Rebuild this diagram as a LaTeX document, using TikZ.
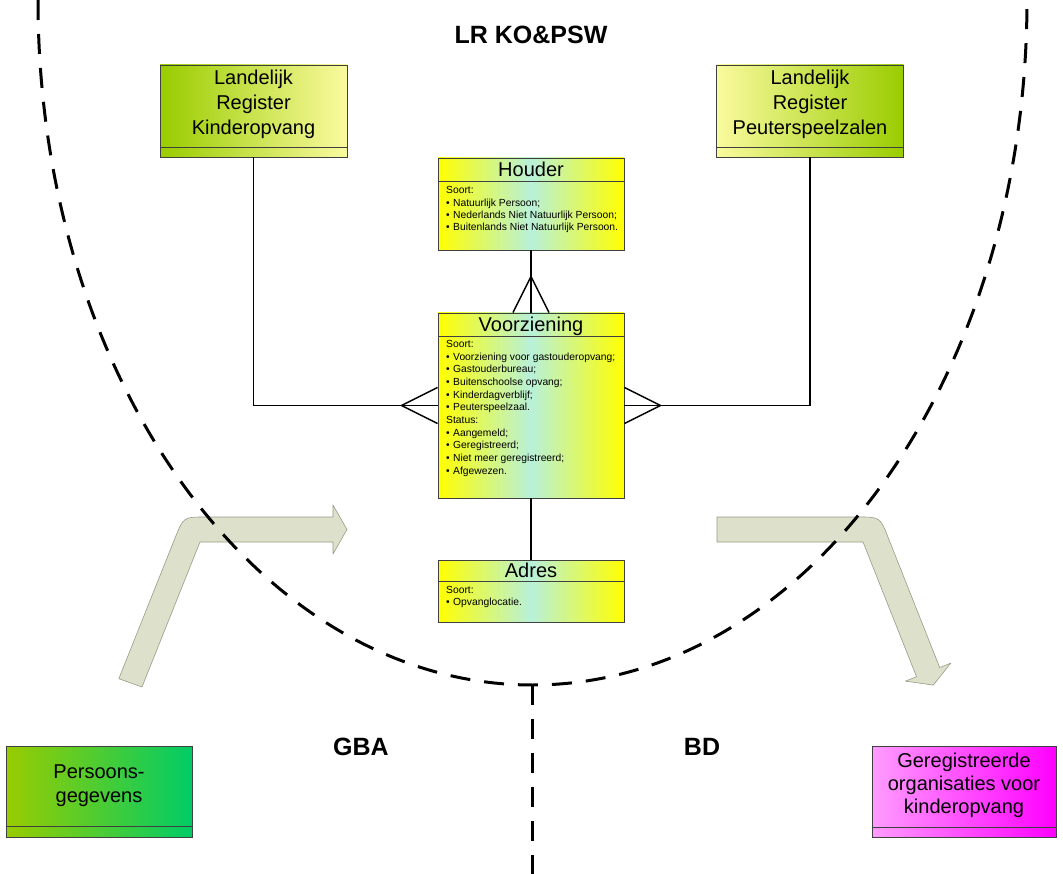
\documentclass[tikz,border=0pt]{standalone}
\usepackage{fontspec}
\setmainfont{Liberation Sans}
\definecolor{lgreen}{HTML}{99CC00}
\definecolor{pyellow}{HTML}{FAFA9E}
\definecolor{sgreen}{HTML}{00CC66}
\definecolor{ppink}{HTML}{FF9CFF}
\definecolor{mgnt}{HTML}{FF00FF}
\definecolor{yel}{HTML}{FFFF00}
\definecolor{aqua}{HTML}{B8F0DA}
\definecolor{arrowfill}{HTML}{DDE0CA}
\definecolor{arrowline}{HTML}{9A9A88}
\newcommand\bul[1]{\makebox[7pt][l]{\textbullet}#1}
\begin{document}
\begin{tikzpicture}[x=1pt,y=-1pt,
  box/.style={draw=black!75, line width=0.9pt, inner sep=0pt, rectangle},
  sep/.style={draw=black!75, line width=0.9pt},
  lbl/.style={font=\fontsize{20}{25}\selectfont, align=center, inner sep=0pt},
  ttl/.style={font=\fontsize{20}{24}\selectfont, inner sep=0pt, anchor=base},
  itm/.style={font=\fontsize{10.3}{12}\selectfont, anchor=base west, inner sep=0pt},
  region/.style={font=\fontsize{25}{30}\selectfont\bfseries, inner sep=0pt, anchor=base},
  conn/.style={line width=1.4pt},
  bound/.style={line width=3pt, dash pattern=on 20pt off 14pt},
  flow/.style={fill=arrowfill, draw=arrowline, line width=0.6pt, line join=round},
  ybox/.style={box, minimum width=186pt, left color=yel, right color=yel, middle color=aqua}
]
\useasboundingbox (0,0) rectangle (1063,874);

% flow arrows
\draw[flow] (118.8,678.7) -- (175.3,537.4) .. controls (183.5,517) .. (205.5,517)
  -- (333,517) -- (333,505) -- (347,529.5) -- (333,554) -- (333,542) -- (200,542) -- (142,687) -- cycle;
\draw[flow] (717,517) -- (858,517) .. controls (880,517) .. (888.1,537.4)
  -- (939.7,667.5) -- (950.8,663.1) -- (933.3,685.1) -- (905.4,681.1) -- (916.5,676.7)
  -- (863,542) -- (717,542) -- cycle;

% boundary
\draw[bound] (38,0) arc[start angle=180, end angle=0, x radius=494.5, y radius=685];
\draw[bound] (532,685) -- (532,874);

% region labels
\node[region] (lr) at (531,44) {LR KO\&PSW};
\node[region] (gba) at (361,755) {GBA};
\node[region] (bd) at (702,755) {BD};

% boxes
\node[box, minimum width=187pt, minimum height=92pt, left color=lgreen, right color=pyellow] (lrk) at (253.5,111) {};
\node[box, minimum width=187pt, minimum height=92pt, left color=pyellow, right color=lgreen] (lrp) at (810,111) {};
\node[ybox, minimum height=92pt] (houder) at (531,204) {};
\node[ybox, minimum height=185pt] (vz) at (531,405.5) {};
\node[ybox, minimum height=62pt] (adres) at (531,591) {};
\node[box, minimum width=186pt, minimum height=91pt, left color=lgreen, right color=sgreen] (pers) at (99,791.5) {};
\node[box, minimum width=184pt, minimum height=91pt, left color=ppink, right color=mgnt] (gro) at (964,791.5) {};

% connectors
\draw[conn] (lrk.south) |- (vz.west);
\draw[conn] ([xshift=-36pt]vz.west) -- ([yshift=18pt]vz.west);
\draw[conn] ([xshift=-36pt]vz.west) -- ([yshift=-18pt]vz.west);
\draw[conn] (lrp.south) |- (vz.east);
\draw[conn] ([xshift=36pt]vz.east) -- ([yshift=18pt]vz.east);
\draw[conn] ([xshift=36pt]vz.east) -- ([yshift=-18pt]vz.east);
\draw[conn] (houder.south) -- (vz.north);
\draw[conn] ([yshift=36pt]vz.north) -- ([xshift=-18pt]vz.north);
\draw[conn] ([yshift=36pt]vz.north) -- ([xshift=18pt]vz.north);
\draw[conn] (vz.south) -- (adres.north);

% separators
\draw[sep] ([yshift=10pt]lrk.south west) -- ([yshift=10pt]lrk.south east);
\draw[sep] ([yshift=10pt]lrp.south west) -- ([yshift=10pt]lrp.south east);
\draw[sep] ([yshift=11pt]pers.south west) -- ([yshift=11pt]pers.south east);
\draw[sep] ([yshift=10pt]gro.south west) -- ([yshift=10pt]gro.south east);
\draw[sep] ([yshift=-24pt]houder.north west) -- ([yshift=-24pt]houder.north east);
\draw[sep] ([yshift=-24pt]vz.north west) -- ([yshift=-24pt]vz.north east);
\draw[sep] ([yshift=-22pt]adres.north west) -- ([yshift=-22pt]adres.north east);

% texts
\node[lbl] (lrkt) at (253.5,104.8) {Landelijk\\Register\\Kinderopvang};
\node[lbl] (lrpt) at (810,104.5) {Landelijk\\Register\\Peuterspeelzalen};
\node[lbl, font=\fontsize{20}{24}\selectfont] (perst) at (99,786) {Persoons-\\gegevens};
\node[lbl, font=\fontsize{20}{23}\selectfont] (grot) at (964,785) {Geregistreerde\\organisaties voor\\kinderopvang};

\node[ttl] (houdert) at (531,177) {Houder};
\node[ttl] (vzt) at (531,332) {Voorziening};
\node[ttl] (adrest) at (531,577) {Adres};

\foreach \t [count=\i] in {Soort:,\bul{Natuurlijk Persoon;},\bul{Nederlands Niet Natuurlijk Persoon;},\bul{Buitenlands Niet Natuurlijk Persoon.}}
  \node[itm] (hi\i) at (446,{194+(\i-1)*12.3}) {\t};
\foreach \t [count=\i] in {Soort:,\bul{Voorziening voor gastouderopvang;},\bul{Gastouderbureau;},\bul{Buitenschoolse opvang;},\bul{Kinderdagverblijf;},\bul{Peuterspeelzaal.},Status:,\bul{Aangemeld;},\bul{Geregistreerd;},\bul{Niet meer geregistreerd;},\bul{Afgewezen.}}
  \node[itm] (vi\i) at (446,{347.7+(\i-1)*12.63}) {\t};
\foreach \t [count=\i] in {Soort:,\bul{Opvanglocatie.}}
  \node[itm] (ai\i) at (446,{593+(\i-1)*12.6}) {\t};
\end{tikzpicture}
\end{document}
